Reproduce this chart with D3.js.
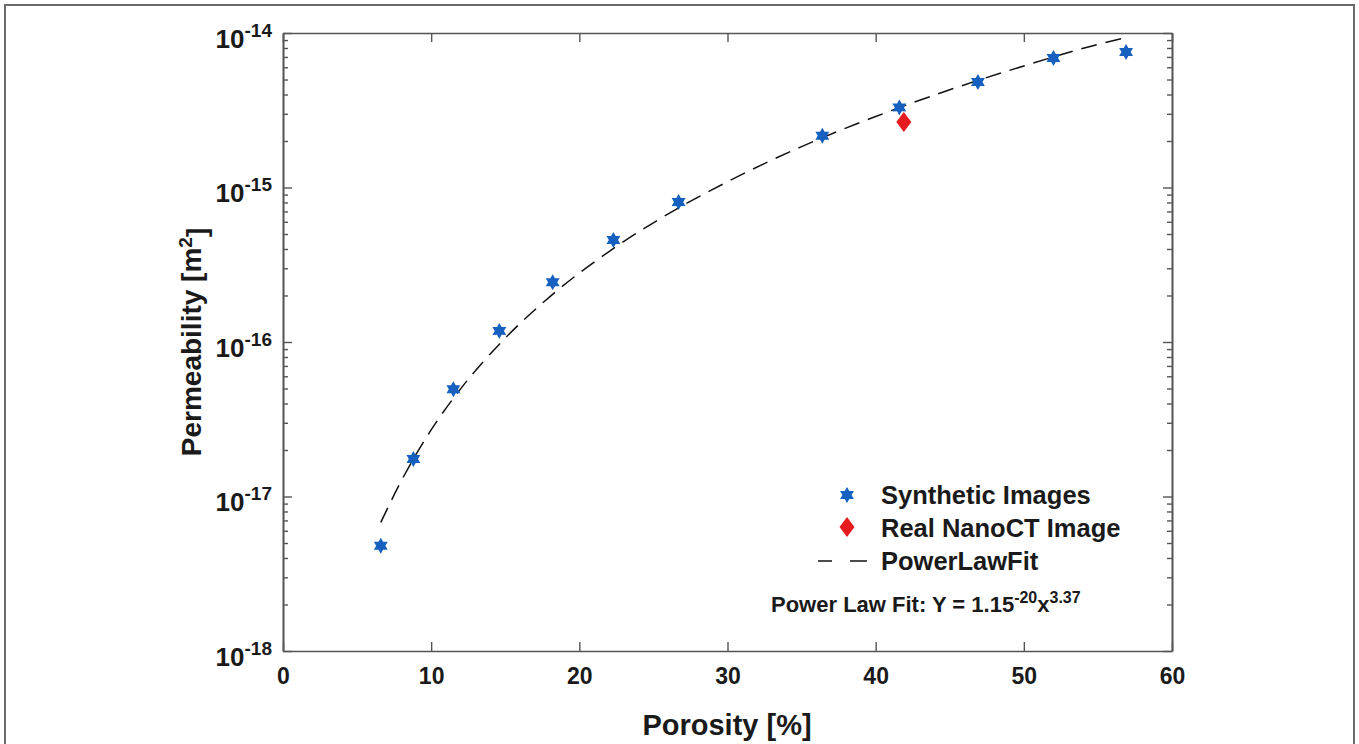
<!DOCTYPE html>
<html>
<head>
<meta charset="utf-8">
<script src="https://cdn.jsdelivr.net/npm/d3@7"></script>
<style>
  html, body { margin: 0; padding: 0; background: #fff; }
  svg { display: block; font-family: "Liberation Sans", Arial, Helvetica, sans-serif; font-weight: bold; }
</style>
</head>
<body>
<svg id="chart" width="1359" height="744"></svg>
<script>
// ---- data ----
const synthPorosity = [6.6, 8.8, 11.5, 14.6, 18.2, 22.3, 26.7, 36.4, 41.6, 46.9, 52.0, 56.9];
const synthPerm = [4.8e-18, 1.75e-17, 4.95e-17, 1.18e-16, 2.44e-16, 4.57e-16, 8.05e-16, 2.16e-15, 3.3e-15, 4.82e-15, 6.89e-15, 7.53e-15];
const realPorosity = [41.9];
const realPerm = [2.65e-15];
const fitPorosity = [6.6, 8, 10, 12, 15, 18, 22, 26, 30, 35, 40, 45, 50, 55, 57];
const fitPerm = [6.8e-18, 1.27e-17, 2.7e-17, 4.99e-17, 1.06e-16, 1.96e-16, 3.85e-16, 6.75e-16, 1.09e-15, 1.84e-15, 2.88e-15, 4.29e-15, 6.12e-15, 8.44e-15, 9.4e-15];
const xTicks = [0, 10, 20, 30, 40, 50, 60];
const yTicks = [1e-18, 1e-17, 1e-16, 1e-15, 1e-14];
const legendLabels = ["Synthetic Images", "Real NanoCT Image", "PowerLawFit"];

const svg = d3.select("#chart");
const L = 283, R = 1172, T = 33, B = 651;
const x = d3.scaleLinear().domain([0, 60]).range([L, R]);
const y = d3.scaleLog().domain([1e-18, 1e-14]).range([B, T]);

const axisColor = "#555";
const textColor = "#1a1a1a";
const blue = "#1660bf";
const red = "#e61b1f";

// figure frame
svg.append("path")
  .attr("d", `M5,744 V5 H1354 V744`)
  .attr("fill", "none").attr("stroke", "#6a6a6a").attr("stroke-width", 2);

// minor log ticks
const minors = [];
for (let e = -18; e < -14; e++) for (let k = 2; k <= 9; k++) minors.push(k * Math.pow(10, e));

function styleAxis(g) {
  g.selectAll(".domain").attr("stroke", axisColor).attr("stroke-width", 1.6);
  g.selectAll(".tick line").attr("stroke", axisColor).attr("stroke-width", 1.4);
}

// bottom axis
const gB = svg.append("g").attr("transform", `translate(0,${B})`)
  .call(d3.axisBottom(x).tickValues(xTicks).tickSizeInner(-9).tickSizeOuter(0).tickPadding(17).tickFormat(d3.format("d")));
styleAxis(gB);
gB.selectAll(".tick text").attr("font-size", 23).attr("fill", textColor)
  .attr("font-family", "Liberation Sans, Arial, sans-serif").attr("font-weight", "bold");

// top axis
const gT = svg.append("g").attr("transform", `translate(0,${T})`)
  .call(d3.axisTop(x).tickValues(xTicks).tickSizeInner(-9).tickSizeOuter(0).tickFormat(""));
styleAxis(gT);

// left axis major
const gL = svg.append("g").attr("transform", `translate(${L},0)`)
  .call(d3.axisLeft(y).tickValues(yTicks).tickSizeInner(-9).tickSizeOuter(0).tickPadding(11));
styleAxis(gL);
gL.selectAll(".tick text").each(function(d) {
  const t = d3.select(this);
  t.text(null).attr("fill", textColor).attr("font-size", 26)
    .attr("font-family", "Liberation Sans, Arial, sans-serif").attr("font-weight", "bold")
    .attr("dy", 14);
  t.append("tspan").text("10");
  t.append("tspan").attr("dy", -11).attr("font-size", 19).text(String(Math.round(Math.log10(d))));
});
// left minor
const gLm = svg.append("g").attr("transform", `translate(${L},0)`)
  .call(d3.axisLeft(y).tickValues(minors).tickSizeInner(-5).tickSizeOuter(0).tickFormat(""));
styleAxis(gLm);

// right axis
const gR = svg.append("g").attr("transform", `translate(${R},0)`)
  .call(d3.axisRight(y).tickValues(yTicks).tickSizeInner(-9).tickSizeOuter(0).tickFormat(""));
styleAxis(gR);
const gRm = svg.append("g").attr("transform", `translate(${R},0)`)
  .call(d3.axisRight(y).tickValues(minors).tickSizeInner(-5).tickSizeOuter(0).tickFormat(""));
styleAxis(gRm);

// axis titles
svg.append("text").attr("x", 727).attr("y", 735).attr("text-anchor", "middle")
  .attr("font-size", 29).attr("fill", textColor).text("Porosity [%]");
const yl = svg.append("text").attr("transform", `translate(201,${(T + B) / 2}) rotate(-90)`)
  .attr("text-anchor", "middle").attr("font-size", 28).attr("fill", textColor);
yl.append("tspan").text("Permeability [m");
yl.append("tspan").attr("dy", "-0.5em").attr("font-size", 19).text("2");
yl.append("tspan").attr("dy", "0.5em").text("]");

// fit line
const line = d3.line().x((d, i) => x(fitPorosity[i])).y((d, i) => y(fitPerm[i])).curve(d3.curveMonotoneX);
svg.append("path").datum(fitPerm)
  .attr("d", line).attr("fill", "none").attr("stroke", "#111").attr("stroke-width", 1.5)
  .attr("stroke-dasharray", "16,9");

// hexagram marker
function hexagram(ro, ri) {
  const pts = [];
  for (let i = 0; i < 12; i++) {
    const a = -Math.PI / 2 + i * Math.PI / 6;
    const r = i % 2 === 0 ? ro : ri;
    pts.push([r * Math.cos(a), r * Math.sin(a)]);
  }
  return "M" + pts.map(p => p[0].toFixed(2) + "," + p[1].toFixed(2)).join("L") + "Z";
}
const starPath = hexagram(8, 4.6);
const diamondPath = "M0,-10L7.5,0L0,10L-7.5,0Z";

svg.append("g").selectAll("path").data(synthPerm).join("path")
  .attr("d", starPath).attr("fill", blue)
  .attr("transform", (d, i) => `translate(${x(synthPorosity[i])},${y(d)})`);

svg.append("g").selectAll("path").data(realPerm).join("path")
  .attr("d", diamondPath).attr("fill", red)
  .attr("transform", (d, i) => `translate(${x(realPorosity[i])},${y(d)})`);

// legend
const lg = svg.append("g");
lg.append("path").attr("d", starPath).attr("fill", blue).attr("transform", "translate(847,495)");
lg.append("path").attr("d", diamondPath).attr("fill", red).attr("transform", "translate(847,527)");
lg.append("line").attr("x1", 818).attr("x2", 832).attr("y1", 561).attr("y2", 561).attr("stroke", "#111").attr("stroke-width", 1.5);
lg.append("line").attr("x1", 850).attr("x2", 867).attr("y1", 561).attr("y2", 561).attr("stroke", "#111").attr("stroke-width", 1.5);
legendLabels.forEach((s, i) => {
  lg.append("text").attr("x", 881).attr("y", 504 + i * 33).attr("font-size", 25.5).attr("fill", textColor).text(s);
});

// annotation
const ann = svg.append("text").attr("x", 771).attr("y", 612).attr("font-size", 22).attr("fill", textColor);
ann.append("tspan").text("Power Law Fit: Y = 1.15");
ann.append("tspan").attr("dy", -9).attr("font-size", 16).text("-20");
ann.append("tspan").attr("dy", 9).text("x");
ann.append("tspan").attr("dy", -9).attr("font-size", 16).text("3.37");
</script>
</body>
</html>
